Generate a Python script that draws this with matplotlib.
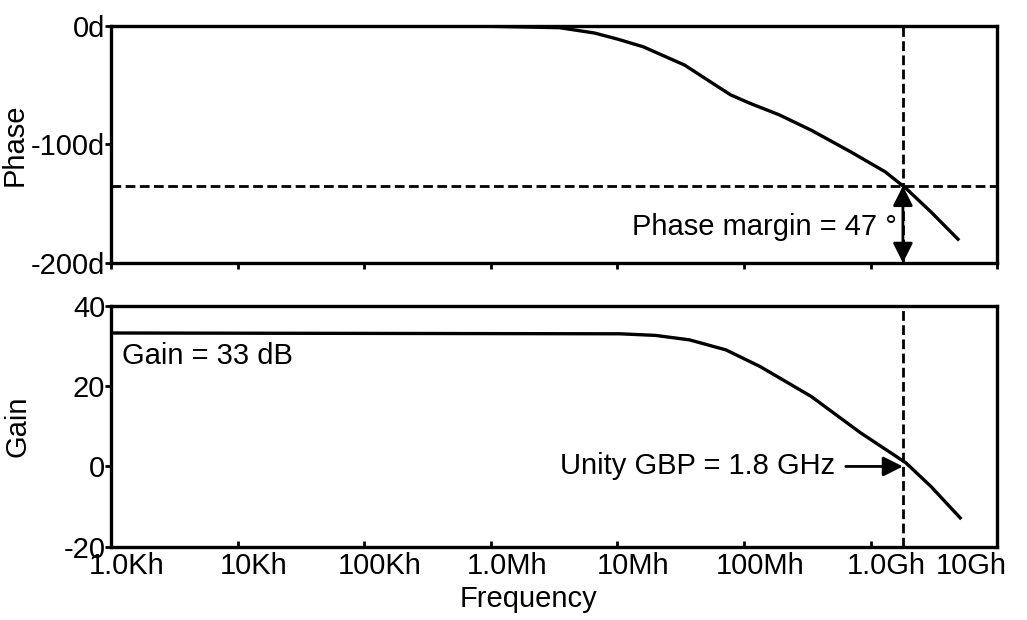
import matplotlib.pyplot as plt
import matplotlib.transforms as mtransforms
import numpy as np

plt.rcParams['font.family'] = ['Liberation Sans', 'DejaVu Sans']
plt.rcParams['font.size'] = 21
plt.rcParams['axes.unicode_minus'] = False

# phase curve
phase_freq = [1e3, 1e5, 7.9e5, 3.5e6, 6.6e6, 1.0e7, 1.6e7, 3.4e7, 7.8e7, 1.1e8,
              1.9e8, 3.4e8, 6.9e8, 1.3e9, 1.9e9, 3.0e9, 4.9e9]
phase_deg = [0, 0, 0, -1.4, -5.9, -11, -17.5, -33, -58, -65,
             -75, -88, -106, -123, -137, -157, -180]

# gain curve
gain_freq = [1e3, 1.05e7, 2.0e7, 3.7e7, 7.2e7, 1.35e8, 3.4e8, 8.3e8, 1.9e9, 3.0e9, 5.1e9]
gain_db = [33.2, 33, 32.6, 31.5, 29, 24.8, 17.4, 8.4, 0.9, -5, -12.8]

f_unity = 1.8e9
pm_level = -135
dc_gain = 33
phase_margin = 47

xticks = [1e3, 1e4, 1e5, 1e6, 1e7, 1e8, 1e9, 1e10]
xlabels = ['1.0Kh', '10Kh', '100Kh', '1.0Mh', '10Mh', '100Mh', '1.0Gh', '10Gh']

dash = (0, (3.5, 1.6))

fig = plt.figure(figsize=(10.27, 6.2), dpi=100)
ax1 = fig.add_axes([0.108, 0.576, 0.863, 0.382])
ax2 = fig.add_axes([0.108, 0.118, 0.863, 0.389])

for ax in (ax1, ax2):
    ax.set_xscale('log')
    ax.set_xlim(1e3, 1e10)
    ax.set_xticks(xticks)
    ax.minorticks_off()
    for s in ax.spines.values():
        s.set_linewidth(2.4)
    ax.tick_params(axis='y', length=4, width=2, pad=0)
    ax.axvline(f_unity, color='k', lw=2, ls=dash)

# phase
ax1.plot(phase_freq, phase_deg, color='k', lw=2.4)
ax1.set_ylim(-200, 0)
ax1.set_yticks([0, -100, -200])
ax1.set_yticklabels(['0d', '-100d', '-200d'])
ax1.set_xticklabels([])
ax1.tick_params(axis='x', direction='out', length=4, width=2)
ax1.axhline(pm_level, color='k', lw=2, ls=dash)
ax1.set_ylabel('Phase')
ax1.yaxis.set_label_coords(-0.093, 0.5)
ax1.annotate('', xy=(f_unity, -200), xytext=(f_unity, pm_level),
             arrowprops=dict(arrowstyle='<|-|>', color='k', lw=2,
                             mutation_scale=30, shrinkA=0, shrinkB=0))
ax1.text(1.6e9, -170, 'Phase margin = %d °' % phase_margin, ha='right', va='center')

# gain
ax2.plot(gain_freq, gain_db, color='k', lw=2.4)
ax2.set_ylim(-20, 40)
ax2.set_yticks([40, 20, 0, -20])
ax2.set_xticklabels(xlabels)
ax2.tick_params(axis='x', direction='in', length=4, width=2, pad=4)
ax2.set_ylabel('Gain')
ax2.yaxis.set_label_coords(-0.09, 0.5)
ax2.set_xlabel('Frequency')
ax2.xaxis.set_label_coords(0.471, -0.16)
ax2.text(1.22e3, 27.6, 'Gain = %d dB' % dc_gain, ha='left', va='center')
ax2.annotate('Unity GBP = 1.8 GHz', xy=(f_unity, 0), xytext=(5.2e8, 0),
             ha='right', va='center',
             arrowprops=dict(arrowstyle='-|>', color='k', lw=2,
                             mutation_scale=30, shrinkA=6, shrinkB=0))

# labels sit a little right of their ticks, the last one pulled in
for i, lab in enumerate(ax2.get_xticklabels()):
    dx = -19 if i == len(xlabels) - 1 else 11.5
    lab.set_transform(lab.get_transform() +
                      mtransforms.ScaledTranslation(dx / 72, 0, fig.dpi_scale_trans))

fig.savefig('out.png', dpi=100)
